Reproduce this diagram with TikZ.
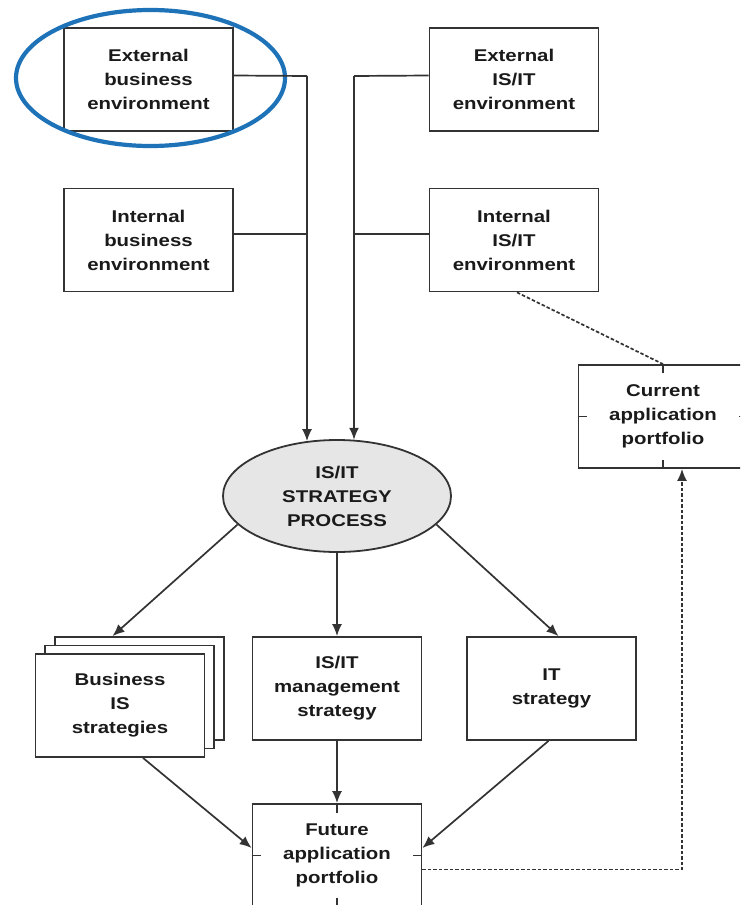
\documentclass[tikz,border=0pt]{standalone}
\usepackage{fontspec}
\setmainfont{Liberation Sans}[FakeStretch=1.2]
\usetikzlibrary{arrows.meta,shapes.geometric}
\definecolor{ink}{HTML}{333333}
\definecolor{txt}{HTML}{1A1A1A}
\definecolor{hl}{HTML}{1E72B8}
\definecolor{procfill}{HTML}{E6E6E6}
\begin{document}
\begin{tikzpicture}[x=1pt,y=-1pt,
  lbl/.style={font=\bfseries\fontsize{17}{24}\selectfont, text=txt, align=center},
  box/.style={lbl, draw=ink, line width=1.8pt, fill=white, minimum width=169pt, minimum height=103pt, inner sep=0pt},
  proc/.style={lbl, ellipse, draw=ink, line width=1.8pt, fill=procfill, minimum width=228pt, minimum height=112pt, inner sep=0pt},
  conn/.style={draw=ink, line width=1.7pt},
  arr/.style={conn, -{Latex[length=12pt,width=10pt]}},
  dline/.style={conn, dash pattern=on 3.5pt off 2pt},
  tick/.style={draw=ink, line width=1.7pt},
  ring/.style={draw=hl, line width=4.2pt}
]
\useasboundingbox (0,0) rectangle (740,905);
\fill[white] (0,0) rectangle (740,905);
\begin{scope}
\clip (0,0) rectangle (740,905);

% boxes
\node[box] (ebe) at (148.5,79.5) {External\\business\\environment};
\node[box] (ibe) at (148.5,240) {Internal\\business\\environment};
\node[box] (eit) at (514,79.5) {External\\IS/IT\\environment};
\node[box] (iit) at (514,240) {Internal\\IS/IT\\environment};
\node[box] (cap) at (663,416.5) {Current\\application\\portfolio};
\node[proc] (strat) at (337,496) {IS/IT\\STRATEGY\\PROCESS};
\node[box] (bis3) at (139.5,688.5) {};
\node[box] (bis2) at (129.5,697) {};
\node[box] (bis1) at (120,705.5) {Business\\IS\\strategies};
\node[box] (mgmt) at (337,688.5) {IS/IT\\management\\strategy};
\node[box] (its) at (551.5,688.5) {IT\\strategy};
\node[box] (fut) at (337,855.5) {Future\\application\\portfolio};

% highlight ring
\node[ring, ellipse, minimum width=269pt, minimum height=136pt, inner sep=0pt] (ring) at (150.5,78) {};

% ports (ticks)
\draw[tick] (cap.north) -- ++(0,9);
\draw[tick] (cap.south) -- ++(0,-9);
\draw[tick] (cap.west) -- ++(9,0);
\draw[tick] (cap.east) -- ++(-9,0);
\draw[tick] (fut.north) -- ++(0,10);
\draw[tick] (fut.south) -- ++(0,-10);
\draw[tick] (fut.west) -- ++(9,0);
\draw[tick] (fut.east) -- ++(-9,0);

% inputs to the strategy process
\path ([yshift=4pt]ebe.east) coordinate (ebeo)
      ([yshift=6pt]ibe.east) coordinate (ibeo)
      ([yshift=4pt]eit.west) coordinate (eito)
      ([yshift=6pt]iit.west) coordinate (iito);
\coordinate (jl) at (307,76);
\coordinate (jr) at (354,76);
\draw[conn] (ebeo) -- (jl);
\draw[conn] (ibeo) -- (ibeo -| jl);
\draw[arr] (jl) -- (jl |- strat.119);
\draw[conn] (eito) -- (jr);
\draw[conn] (iito) -- (iito -| jr);
\draw[arr] (jr) -- (jr |- strat.73);

% outputs of the strategy process
\draw[arr] (strat.196) -- ([xshift=-27pt]bis3.north);
\draw[arr] (strat.south) -- (mgmt.north);
\draw[arr] (strat.344) -- ([xshift=7pt]its.north);

% into the future portfolio
\draw[arr] ([xshift=23pt]bis1.south) -- ([yshift=7.5pt]fut.west);
\draw[arr] (mgmt.south) -- (fut.north);
\draw[arr] ([xshift=-3pt]its.south) -- ([yshift=7.5pt]fut.east);

% dashed links
\draw[dline] ([xshift=3pt]iit.south) -- (cap.north);
\draw[dline, -{Latex[length=12pt,width=10pt]}] ([yshift=-14pt]fut.east) -| ([xshift=19pt]cap.south);
\end{scope}
\end{tikzpicture}
\end{document}
